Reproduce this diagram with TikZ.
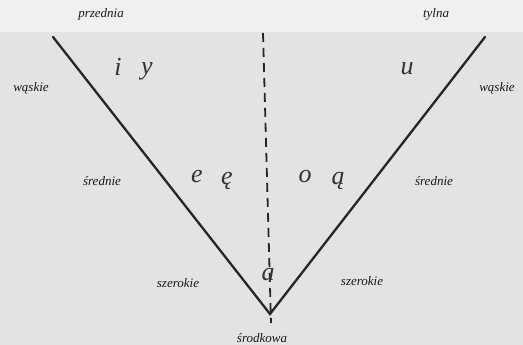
\documentclass[tikz,border=0pt]{standalone}
\usepackage{fontspec}
\setmainfont{Liberation Serif}
\begin{document}
\begin{tikzpicture}[x=1pt,y=-1pt,
  lbl/.style={font=\fontsize{13}{14}\selectfont\itshape, text=black!90},
  vow/.style={font=\fontsize{26}{28}\selectfont\itshape, text=black!80, inner sep=0pt},
  axis/.style={line width=2.3pt, black!85, line cap=round},
  mid/.style={line width=1.8pt, black!85, dash pattern=on 9pt off 6pt}]
\fill[black!11] (0,0) rectangle (523,345);
\fill[black!6] (0,0) rectangle (523,32);
\useasboundingbox (0,0) rectangle (523,345);
\coordinate (lt) at (53,37);
\coordinate (rt) at (485,37);
\coordinate (v) at (270,314);
\coordinate (dt) at (263,33);
\coordinate (db) at (271,323);
\draw[axis] (lt) -- (v) -- (rt);
\draw[mid] (dt) -- (db);
\node[lbl] (przednia) at (101,14) {przednia};
\node[lbl] (tylna) at (436,14) {tylna};
\node[lbl] (waskieL) at (31,88) {wąskie};
\node[lbl] (waskieR) at (497,88) {wąskie};
\node[lbl] (srednieL) at (102,181) {średnie};
\node[lbl] (srednieR) at (434,181) {średnie};
\node[lbl] (szerokieL) at (178,283) {szerokie};
\node[lbl] (szerokieR) at (362,281) {szerokie};
\node[lbl] (srodkowa) at (262,338) {środkowa};
\node[vow] (i) at (118,67) {i};
\node[vow] (y) at (147,71) {y};
\node[vow] (u) at (407,69) {u};
\node[vow] (e) at (197,177) {e};
\node[vow] (ee) at (227,181) {ę};
\node[vow] (o) at (305,177) {o};
\node[vow] (aa) at (338,181) {ą};
\node[vow] (a) at (268,275) {a};
\end{tikzpicture}
\end{document}
